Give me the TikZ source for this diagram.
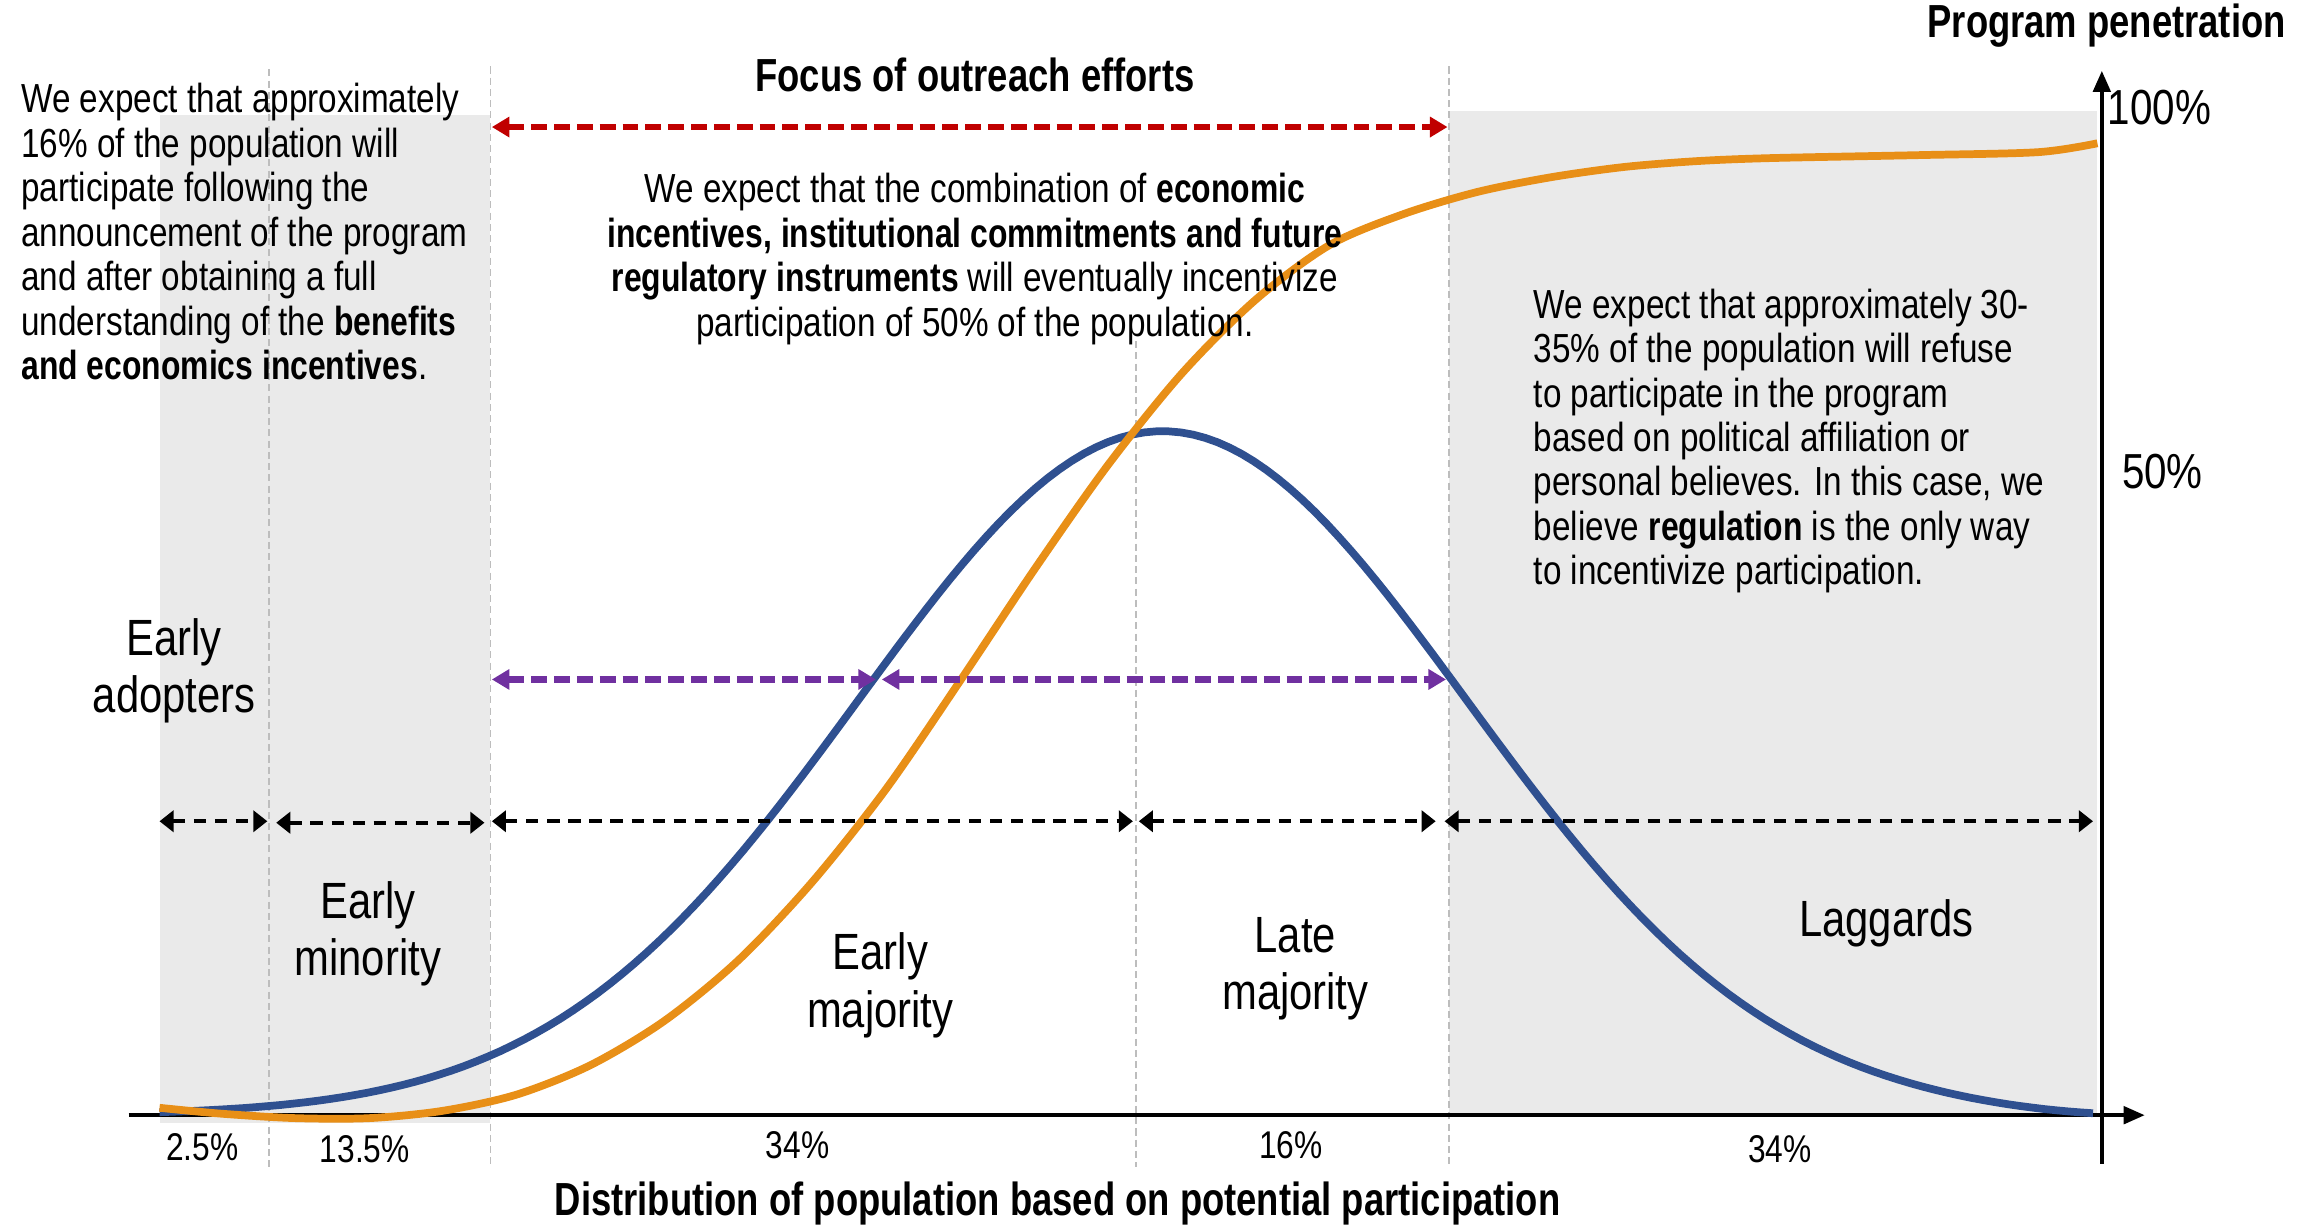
\documentclass[tikz,border=0pt]{standalone}
\usepackage{fontspec}
\setmainfont{Liberation Sans}[FakeStretch=0.82, BoldFeatures={FakeStretch=0.785}]
\usetikzlibrary{arrows.meta}
\definecolor{greyfill}{HTML}{EAEAEA}
\definecolor{curveblue}{HTML}{2F5090}
\definecolor{curveorange}{HTML}{E88F17}
\definecolor{arrred}{HTML}{C00000}
\definecolor{arrpurple}{HTML}{7030A0}
\definecolor{sepgrey}{HTML}{BDBDBD}
\tikzset{
  body/.style={inner sep=0pt, font=\fontsize{11.55}{12.65}\selectfont},
  biglabel/.style={inner sep=0pt, align=center, font=\fontsize{14.5}{16.3}\selectfont},
  pct/.style={inner sep=0pt, font=\fontsize{11}{13}\selectfont},
  axlabel/.style={inner sep=0pt, font=\fontsize{14}{16}\selectfont},
  titletext/.style={inner sep=0pt, font=\bfseries\fontsize{13.2}{15}\selectfont},
  sepline/.style={sepgrey, line width=0.45pt, dash pattern=on 2pt off 1.2pt},
  bigarrow/.style={line width=1.8pt, dash pattern=on 4.5pt off 2pt, {Triangle[length=5pt,width=5.6pt]}-{Triangle[length=5pt,width=5.6pt]}},
  smallarrow/.style={black, line width=1.1pt, dash pattern=on 3.5pt off 2.5pt, {Triangle[length=4pt,width=6pt]}-{Triangle[length=4pt,width=6pt]}},
  axis/.style={black, line width=1pt, -{Triangle[length=6pt,width=5pt]}},
  curve/.style={line width=2.2pt, line cap=butt},
}
\begin{document}
\begin{tikzpicture}[x=0.01477cm, y=-0.01477cm]
\useasboundingbox (0,0) rectangle (1568,831);
% shaded zones
\fill[greyfill] (108,78) rectangle (332,760);
\fill[greyfill] (981,75) rectangle (1420,755);
% separators
\draw[sepline] (182,47) -- (182,790);
\draw[sepline] (332,45) -- (332,790);
\draw[sepline] (769,231) -- (769,790);
\draw[sepline] (981,45) -- (981,790);
% axes
\coordinate (xo) at (87,755);
\coordinate (xe) at (1452,755);
\coordinate (yo) at (1423,788);
\coordinate (ye) at (1423,48);
\draw[axis] (xo) -- (xe);
\draw[axis] (yo) -- (ye);
% curves
\draw[curve, curveblue] plot[domain=108:1417, samples=160] (\x, {755-463*exp(-0.5*((\x-787)/206)^2)+3*exp(-0.5*((\x-1417)/80)^2)});
\draw[curve, curveorange] plot[smooth, tension=0.5] coordinates {
 (108,750) (150,754) (200,757) (250,757) (300,752) (350,741) (400,721) (450,691)
 (500,650) (550,597) (600,534) (650,461) (700,386) (750,315) (800,253) (850,203)
 (900,166) (950,145) (1000,130) (1050,120) (1100,113) (1150,109) (1200,107)
 (1300,105) (1380,103) (1420,97)};
% red arrow
\coordinate (ra) at (333,86);
\coordinate (rb) at (980,86);
\draw[bigarrow, arrred] (ra) -- (rb);
% purple arrows
\coordinate (pa) at (333,460);
\coordinate (pb) at (593,460);
\coordinate (pc) at (597,460);
\coordinate (pd) at (979,460);
\draw[bigarrow, arrpurple] (pa) -- (pb);
\draw[bigarrow, arrpurple] (pc) -- (pd);
% black segment arrows
\coordinate (b1) at (108,556);
\coordinate (b2) at (181,556);
\coordinate (b3) at (187,557);
\coordinate (b4) at (328,557);
\coordinate (b5) at (333,556);
\coordinate (b6) at (767,556);
\coordinate (b7) at (771,556);
\coordinate (b8) at (972,556);
\coordinate (b9) at (978,556);
\coordinate (b10) at (1417,556);
\draw[smallarrow] (b1) -- (b2);
\draw[smallarrow] (b3) -- (b4);
\draw[smallarrow] (b5) -- (b6);
\draw[smallarrow] (b7) -- (b8);
\draw[smallarrow] (b9) -- (b10);
% titles
\node[titletext] (ttop) at (660,51) {Focus of outreach efforts};
\node[titletext, anchor=east] (tpen) at (1548,17) {Program penetration};
\node[titletext] (tdist) at (716,815) {Distribution of population based on potential participation};
% axis labels
\node[axlabel] (l100) at (1462,73) {100\%};
\node[axlabel] (l50) at (1464,319) {50\%};
% explanatory texts
\node[body, anchor=north west, align=left] (tleft) at (14,56) {We expect that approximately\\16\% of the population will\\participate following the\\announcement of the program\\and after obtaining a full\\understanding of the \textbf{benefits}\\\textbf{and economics incentives}.};
\node[body, anchor=north, align=center] (tmid) at (660,117) {We expect that the combination of \textbf{economic}\\\textbf{incentives, institutional commitments and future}\\\textbf{regulatory instruments} will eventually incentivize\\participation of 50\% of the population.};
\node[body, anchor=north west, align=left] (tright) at (1038,195) {We expect that approximately 30-\\35\% of the population will refuse\\to participate in the program\\based on political affiliation or\\personal believes. In this case, we\\believe \textbf{regulation} is the only way\\to incentivize participation.};
% segment labels
\node[biglabel] (sadopt) at (118,454) {Early\\adopters};
\node[biglabel] (sminor) at (249,632) {Early\\minority};
\node[biglabel] (searly) at (596,667) {Early\\majority};
\node[biglabel] (slate) at (877,656) {Late\\majority};
\node[biglabel] (slag) at (1277,625) {Laggards};
% percentages
\node[pct] (p1) at (137,777) {2.5\%};
\node[pct] (p2) at (247,778) {13.5\%};
\node[pct] (p3) at (540,775) {34\%};
\node[pct] (p4) at (874,775) {16\%};
\node[pct] (p5) at (1205,778) {34\%};
\end{tikzpicture}
\end{document}
